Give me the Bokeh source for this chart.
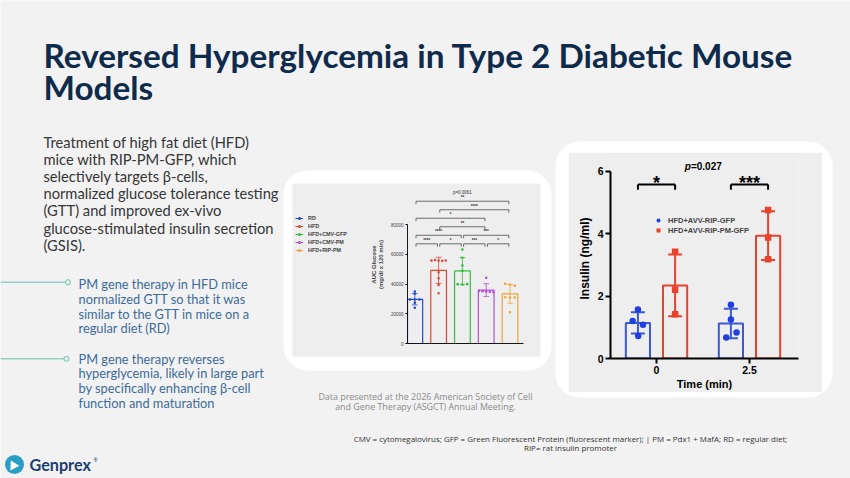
from bokeh.plotting import figure
from bokeh.layouts import column
from bokeh.models import (Range1d, BoxAnnotation, FixedTicker, Legend, LegendItem)
from bokeh.core.properties import value
from bokeh.embed import file_html
from bokeh.resources import INLINE

# ---------------- data: GTT area under the curve (left chart) ----------------
auc_groups = ["RD", "HFD", "HFD+CMV-GFP", "HFD+CMV-PM", "HFD+RIP-PM"]
auc_mean = [29800, 49300, 48900, 36000, 33400]
auc_sd = [3800, 8800, 9000, 4300, 6300]
auc_points = [
    [35050, 33500, 29650, 29650, 29650, 27400, 24060],
    [55900, 56300, 55900, 55700, 55900, 48000, 44000, 39500, 33900],
    [63350, 57750, 52570, 49000, 40000, 39600, 40000],
    [44300, 35500, 35300, 35000, 34800, 34500],
    [40200, 39700, 39000, 31200, 30900, 31000, 21100],
]
auc_jitter = [
    [0.0, 0.0, -0.2, 0.0, 0.2, 0.0, 0.0],
    [-0.3, -0.15, 0.0, 0.15, 0.3, 0.0, 0.0, 0.0, 0.0],
    [0.0, 0.0, 0.0, 0.0, -0.2, 0.0, 0.2],
    [0.0, -0.3, -0.15, 0.0, 0.15, 0.3],
    [-0.2, 0.0, 0.2, -0.2, 0.0, 0.2, 0.0],
]
auc_ticks = [0, 20000, 40000, 60000, 80000]
auc_tick_labels = ["0", "20000", "40000", "60000", "80000"]
# (group a, group b, significance label, bracket row from the bottom)
auc_comparisons = [
    (0, 1, "****", 0), (1, 2, "*", 0), (2, 3, "***", 0), (3, 4, "*", 0),
    (0, 2, "****", 1), (2, 4, "***", 1),
    (1, 3, "**", 2),
    (0, 3, "*", 3),
    (1, 4, "****", 4),
    (0, 4, "**", 5),
]
auc_p = "p=0.0061"
auc_colors = ["#2447d6", "#e8432e", "#2fbf3c", "#b24fd6", "#f0a43a"]

# ---------------- data: ex-vivo GSIS insulin (right chart) ----------------
gsis_times = ["0", "2.5"]
gfp_label = "HFD+AVV-RIP-GFP"
pm_label = "HFD+AVV-RIP-PM-GFP"
gfp_mean = [1.14, 1.12]
gfp_sd = [0.34, 0.47]
pm_mean = [2.34, 3.93]
pm_sd = [0.99, 0.78]
gfp_points = [[1.57, 1.20, 1.08, 0.72], [1.72, 1.25, 0.83, 0.67]]
gfp_jitter = [[0.0, -0.057, 0.054, 0.003], [0.0, 0.0, 0.061, -0.05]]
pm_points = [[3.42, 2.20, 1.42], [4.75, 3.87, 3.18]]
gsis_sig = ["*", "***"]
gsis_ticks = [0, 2, 4, 6]

# ---------------- slide texts ----------------
title_lines = ["Reversed Hyperglycemia in Type 2 Diabetic Mouse", "Models"]
para_lines = ["Treatment of high fat diet (HFD)",
              "mice with RIP-PM-GFP, which",
              "selectively targets \u03b2-cells,",
              "normalized glucose tolerance testing",
              "(GTT) and improved ex-vivo",
              "glucose-stimulated insulin secretion",
              "(GSIS)."]
bullet1 = ["PM gene therapy in HFD mice",
           "normalized GTT so that it was",
           "similar to the GTT in mice on a",
           "regular diet (RD)"]
bullet2 = ["PM gene therapy reverses",
           "hyperglycemia, likely in large part",
           "by specifically enhancing \u03b2-cell",
           "function and maturation"]
data_note = ["Data presented at the 2026 American Society of Cell",
             "and Gene Therapy (ASGCT) Annual Meeting."]
abbrev_note = ["CMV = cytomegalovirus; GFP = Green Fluorescent Protein (fluorescent marker); | PM = Pdx1 + MafA; RD = regular diet;",
               "RIP= rat insulin promoter"]

BG = "#f2f2f2"
PANEL = "#eeeeee"
NAN = float("nan")

# ======================= background slide =======================
bg = figure(width=850, height=478, x_range=Range1d(0, 850), y_range=Range1d(478, 0),
            x_axis_type=None, y_axis_type=None, output_backend="svg",
            toolbar_location=None, min_border=0, outline_line_color=None,
            background_fill_color=BG, border_fill_color=BG, frame_align=False)
bg.grid.visible = False

# white rounded cards, and the grey picture panel inside the left card
for l, r, t, b, c, rad in [(283, 551, 170, 370, "white", 24), (555, 832, 141, 397, "white", 24),
                           (292, 540, 183, 356, PANEL, 0)]:
    bg.add_layout(BoxAnnotation(left=l, right=r, top=t, bottom=b, fill_color=c,
                                fill_alpha=1, line_color=None, border_radius=rad,
                                level="underlay"))


def text_block(lines, x, base0, dy, size, color, font="Lato", style="normal", align="left"):
    # base0 is the baseline of the first line; shift to the renderer's text anchor
    y0 = base0 - 0.35 * size
    bg.text(x=[x] * len(lines), y=[y0 + i * dy for i in range(len(lines))], text=lines,
            text_font=value(font), text_font_size=f"{size}px", text_color=color,
            text_font_style=style, text_align=align, text_baseline="alphabetic")


text_block(title_lines, 43, 66, 32, 33.3, "#0f2b4c", style="bold")
text_block(para_lines, 43, 146.7, 17.1, 14.7, "#353535")
text_block(bullet1, 78, 288.3, 14.7, 12.8, "#3d6b99")
text_block(bullet2, 78, 362.7, 14.7, 12.8, "#3d6b99")
text_block(data_note, 425, 399.5, 9.5, 8.9, "#8a8a8a", font="Open Sans", align="center")
text_block(abbrev_note, 570, 441.5, 8.7, 7.95, "#333333", font="Open Sans", align="center")
text_block(["Genprex"], 29, 470, 0, 16.2, "#1d3e70", style="bold")
text_block(["\u00ae"], 93, 461, 0, 5, "#1d3e70")

bg.segment(x0=[0, 0], y0=[281.7, 358.3], x1=[65, 63.5], y1=[281.7, 358.3],
           line_color="#69bfae", line_width=1)
bg.scatter(x=[67.5, 66], y=[281.7, 358.3], marker="circle", size=5,
           fill_color=BG, line_color="#69bfae", line_width=1)

# logo mark
bg.scatter(x=[14], y=[464], marker="circle", size=19, fill_color="#2a9fc6", line_color=None)
bg.scatter(x=[13], y=[465], marker="triangle", size=10, angle=0.5, fill_color="white",
           line_color=None)

# legend of the left chart (GraphPad style line + dot), placed beside that chart;
# the proxy renderers hold no drawable point (NaN), they only style the legend glyphs
auc_legend_items = []
for g, c in zip(auc_groups, auc_colors):
    seg = bg.segment(x0=[NAN], y0=[NAN], x1=[NAN], y1=[NAN], line_color=c, line_width=1)
    dot = bg.scatter(x=[NAN], y=[NAN], marker="circle", size=3.5, fill_color=c, line_color=None)
    auc_legend_items.append(LegendItem(label=g, renderers=[seg, dot]))
bg.add_layout(Legend(items=auc_legend_items, location=(295, 224), label_text_font_size="5.4px",
                     label_text_font="Liberation Sans", label_text_font_style="bold",
                     label_text_color="#444444", glyph_width=8, glyph_height=8, label_height=8,
                     label_standoff=5, spacing=0, padding=0, margin=0, border_line_color=None,
                     background_fill_alpha=0))

# ======================= left chart: GTT AUC =======================
p1 = figure(width=248, height=173, x_range=Range1d(-0.307, 4.567), y_range=Range1d(0, 106500),
            output_backend="svg", toolbar_location=None, frame_align=False,
            min_border_left=115, min_border_right=17, min_border_top=2, min_border_bottom=13,
            background_fill_alpha=0, border_fill_alpha=0, outline_line_color=None)
p1.grid.visible = False
p1.xaxis.ticker = FixedTicker(ticks=[])
p1.xaxis.axis_line_width = 0.9
p1.xaxis.major_label_text_font_size = "0px"
p1.xaxis.major_tick_line_color = None
p1.xaxis.minor_tick_line_color = None
p1.yaxis.ticker = FixedTicker(ticks=auc_ticks)
p1.yaxis.major_label_overrides = {t: s for t, s in zip(auc_ticks, auc_tick_labels)}
p1.yaxis.bounds = (auc_ticks[0], auc_ticks[-1])
p1.yaxis.axis_line_width = 0.9
p1.yaxis.major_tick_out = 2
p1.yaxis.major_tick_in = 0
p1.yaxis.minor_tick_line_color = None
p1.yaxis.major_label_text_font_size = "4.5px"
p1.yaxis.major_label_text_font = "Liberation Sans"
p1.yaxis.major_label_standoff = 2
p1.yaxis.axis_label = "AUC Glucose\n(mg/dl x 120 min)"
p1.yaxis.axis_label_text_font = "Liberation Sans"
p1.yaxis.axis_label_text_font_size = "6px"
p1.yaxis.axis_label_text_font_style = "bold"
p1.yaxis.axis_label_standoff = 4

xs = list(range(len(auc_groups)))
p1.vbar(x=xs, top=auc_mean, width=0.66, fill_alpha=0, line_color=auc_colors, line_width=1.2)

for i, g in enumerate(auc_groups):
    lo, hi = auc_mean[i] - auc_sd[i], auc_mean[i] + auc_sd[i]
    p1.segment(x0=[i], y0=[lo], x1=[i], y1=[hi], line_color=auc_colors[i], line_width=0.8)
    p1.segment(x0=[i - 0.12, i - 0.12], y0=[lo, hi], x1=[i + 0.12, i + 0.12], y1=[lo, hi],
               line_color=auc_colors[i], line_width=0.8)
    p1.scatter(x=[i + j for j in auc_jitter[i]], y=auc_points[i], marker="circle",
               size=2.6, fill_color=auc_colors[i], line_color=None)

row_base, row_step, leg = 67200, 5740, 2000
bx0, bx1, by0, by1 = [], [], [], []
lx, ly, lt = [], [], []
for a, b, lab, row in auc_comparisons:
    y = row_base + row * row_step
    l, r = a + 0.05, b - 0.05
    bx0 += [l, l, r]
    bx1 += [r, l, r]
    by0 += [y, y, y]
    by1 += [y, y - leg, y - leg]
    lx.append((a + b) / 2)
    ly.append(y + 700)
    lt.append(lab)
p1.segment(x0=bx0, x1=bx1, y0=by0, y1=by1, line_color="#333333", line_width=0.7)
p1.text(x=lx, y=ly, text=lt, text_font=value("Liberation Sans"), text_font_size="4.5px",
        text_font_style="bold", text_align="center", text_baseline="bottom", text_color="#333333")
p1.text(x=[2], y=[101500], text=[auc_p], text_font=value("Liberation Sans"), text_font_size="4.5px",
        text_align="center", text_baseline="middle", text_color="#333333")

# ======================= right chart: GSIS insulin =======================
BLUE_BAR, BLUE_PT = "#3a59d2", "#1f3fe0"
RED = "#e8412c"

p2 = figure(width=254, height=240, x_range=Range1d(-0.495, 1.527), y_range=Range1d(0, 6.4),
            output_backend="svg", toolbar_location=None, frame_align=False,
            min_border_left=42, min_border_right=24, min_border_top=6, min_border_bottom=34,
            background_fill_color=PANEL, border_fill_color=PANEL, outline_line_color=None)
p2.grid.visible = False
for ax in (p2.xaxis[0], p2.yaxis[0]):
    ax.axis_line_width = 2
    ax.major_tick_line_width = 2
    ax.major_tick_out = 5
    ax.major_tick_in = 0
    ax.minor_tick_line_color = None
    ax.major_label_text_font = "Liberation Sans"
    ax.major_label_text_font_style = "bold"
    ax.major_label_text_font_size = "10.5px"
    ax.axis_label_text_font = "Liberation Sans"
    ax.axis_label_text_font_style = "bold"
    ax.axis_label_text_color = "black"
    ax.major_label_text_color = "black"
p2.yaxis.ticker = FixedTicker(ticks=gsis_ticks)
p2.yaxis.bounds = (gsis_ticks[0], gsis_ticks[-1])
p2.yaxis.axis_label = "Insulin (ng/ml)"
p2.yaxis.axis_label_text_font_size = "12px"
p2.yaxis.axis_label_standoff = 3
p2.yaxis.major_label_standoff = 2
p2.xaxis.ticker = FixedTicker(ticks=list(range(len(gsis_times))))
p2.xaxis.major_label_overrides = {i: t for i, t in enumerate(gsis_times)}
p2.xaxis.axis_label = "Time (min)"
p2.xaxis.axis_label_text_font_size = "11px"
p2.xaxis.axis_label_standoff = 1
p2.xaxis.major_label_standoff = 2

off = 0.2
tx = list(range(len(gsis_times)))
p2.vbar(x=[t - off for t in tx], top=gfp_mean, width=0.26, fill_alpha=0,
        line_color=BLUE_BAR, line_width=2)
p2.vbar(x=[t + off for t in tx], top=pm_mean, width=0.26, fill_alpha=0,
        line_color=RED, line_width=2)

for means, sds, dx, col in [(gfp_mean, gfp_sd, -off, BLUE_BAR), (pm_mean, pm_sd, off, RED)]:
    lo = [m - s for m, s in zip(means, sds)]
    hi = [m + s for m, s in zip(means, sds)]
    xx = [t + dx for t in tx]
    p2.segment(x0=xx, y0=lo, x1=xx, y1=hi, line_color=col, line_width=2)
    p2.segment(x0=[x - 0.075 for x in xx] * 2, y0=lo + hi, x1=[x + 0.075 for x in xx] * 2,
               y1=lo + hi, line_color=col, line_width=2)

gx, gy = [], []
for t in tx:
    gx += [t - off + j for j in gfp_jitter[t]]
    gy += gfp_points[t]
rx, ry = [], []
for t in tx:
    rx += [t + off] * len(pm_points[t])
    ry += pm_points[t]
g_r = p2.scatter(x=gx, y=gy, marker="circle", size=6.5, fill_color=BLUE_PT, line_color=None)
r_r = p2.scatter(x=rx, y=ry, marker="square", size=6.5, fill_color=RED, line_color=None)

leg2 = Legend(items=[LegendItem(label=gfp_label, renderers=[g_r]),
                     LegendItem(label=pm_label, renderers=[r_r])],
              location=(43, 123), label_text_font_size="7.5px", label_text_font="Liberation Sans",
              label_text_font_style="bold", glyph_width=10, glyph_height=10, label_height=10,
              label_standoff=5, spacing=0, padding=0, margin=0, border_line_color=None,
              background_fill_alpha=0)
p2.add_layout(leg2)

# significance brackets
sx0, sx1, sy0, sy1 = [], [], [], []
for t in tx:
    l, r, y = t - off, t + off, 5.57
    sx0 += [l, l, r]
    sx1 += [r, l, r]
    sy0 += [y, y, y]
    sy1 += [y, y - 0.17, y - 0.17]
p2.segment(x0=sx0, x1=sx1, y0=sy0, y1=sy1, line_color="black", line_width=2)
p2.text(x=tx, y=[5.62] * len(tx), text=gsis_sig, text_font=value("Liberation Sans"),
        text_font_size="18px", text_font_style="bold", text_align="center",
        text_baseline="alphabetic", text_color="black")
p2.text(x=[0.37], y=[6.16], text=["p"], text_font=value("Liberation Sans"), text_font_size="10px",
        text_font_style="bold italic", text_align="right", text_baseline="middle")
p2.text(x=[0.37], y=[6.16], text=["=0.027"], text_font=value("Liberation Sans"),
        text_font_size="10px", text_font_style="bold", text_align="left", text_baseline="middle")

p1.styles = {"position": "absolute", "left": "292px", "top": "183px"}
p2.styles = {"position": "absolute", "left": "568px", "top": "152px"}

layout = column(bg, p1, p2, width=850, height=478,
                styles={"position": "relative", "overflow": "hidden"})

open("out.html", "w").write(file_html(layout, INLINE))
